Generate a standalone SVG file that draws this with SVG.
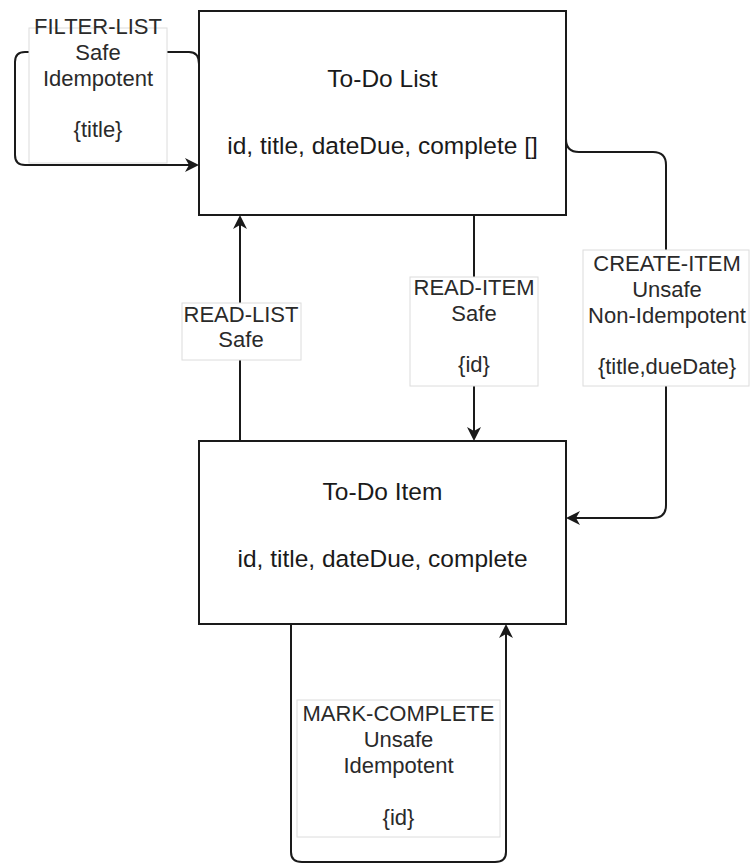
<svg xmlns="http://www.w3.org/2000/svg" width="750" height="865" viewBox="0 0 750 865">
  <style>
    .node { fill: #ffffff; stroke: #1a1a1a; stroke-width: 2; }
    .node-text { font-family: "Liberation Sans", Arial, sans-serif; font-size: 24.5px; fill: #1a1a1a; text-anchor: middle; }
    .edge { fill: none; stroke: #1a1a1a; stroke-width: 2; }
    .label-box { fill: #ffffff; stroke: #dcdcdc; stroke-width: 1; }
    .label-text { font-family: "Liberation Sans", Arial, sans-serif; font-size: 22px; fill: #2a2a2a; text-anchor: middle; }
  </style>
  <defs>
    <marker id="arrow" viewBox="-9 -8 16 16" refX="0" refY="0" markerWidth="16" markerHeight="16" markerUnits="userSpaceOnUse" orient="auto">
      <path d="M6,0 L-8,-7 L-4,0 L-8,7 Z" fill="#1a1a1a"/>
    </marker>
  </defs>

  <rect width="750" height="865" fill="#ffffff"/>

  <!-- Resources -->
  <g id="todo-list">
    <rect class="node" x="199" y="11" width="367" height="204"/>
    <text class="node-text" x="382.5" y="87">To-Do List</text>
    <text class="node-text" x="382.5" y="154">id, title, dateDue, complete []</text>
  </g>

  <g id="todo-item">
    <rect class="node" x="199" y="441" width="367" height="183"/>
    <text class="node-text" x="382.5" y="500">To-Do Item</text>
    <text class="node-text" x="382.5" y="567">id, title, dateDue, complete</text>
  </g>

  <!-- Transitions between resources -->
  <g id="connectors">
    <!-- FILTER-LIST: loop on the list -->
    <path class="edge" d="M199,64 Q199,52 189,52 L25,52 Q15,52 15,62 L15,155 Q15,165 25,165 L193,165" marker-end="url(#arrow)"/>
    <!-- READ-LIST: item to list -->
    <path class="edge" d="M240,441 L240,221" marker-end="url(#arrow)"/>
    <!-- READ-ITEM: list to item -->
    <path class="edge" d="M474,215 L474,435" marker-end="url(#arrow)"/>
    <!-- CREATE-ITEM: list to item -->
    <path class="edge" d="M566,112 L566,139 Q566,152 579,152 L653,152 Q666,152 666,165 L666,505 Q666,518 653,518 L572,518" marker-end="url(#arrow)"/>
    <!-- MARK-COMPLETE: loop on the item -->
    <path class="edge" d="M291,624 L291,852 Q291,862 302,862 L495,862 Q506,862 506,852 L506,630" marker-end="url(#arrow)"/>

    <g id="label-filter-list">
      <rect class="label-box" x="29" y="28" width="138" height="135"/>
      <text class="label-text" x="98" y="34">FILTER-LIST</text>
      <text class="label-text" x="98" y="60">Safe</text>
      <text class="label-text" x="98" y="86">Idempotent</text>
      <text class="label-text" x="98" y="137">{title}</text>
    </g>

    <g id="label-read-list">
      <rect class="label-box" x="182" y="303" width="119" height="57"/>
      <text class="label-text" x="241" y="322">READ-LIST</text>
      <text class="label-text" x="241" y="347">Safe</text>
    </g>

    <g id="label-read-item">
      <rect class="label-box" x="410" y="277" width="128" height="109"/>
      <text class="label-text" x="474" y="295">READ-ITEM</text>
      <text class="label-text" x="474" y="321">Safe</text>
      <text class="label-text" x="474" y="372">{id}</text>
    </g>

    <g id="label-create-item">
      <rect class="label-box" x="583" y="250" width="166" height="136"/>
      <text class="label-text" x="667" y="271">CREATE-ITEM</text>
      <text class="label-text" x="667" y="297">Unsafe</text>
      <text class="label-text" x="667" y="323">Non-Idempotent</text>
      <text class="label-text" x="667" y="374">{title,dueDate}</text>
    </g>

    <g id="label-mark-complete">
      <rect class="label-box" x="297" y="700" width="203" height="137"/>
      <text class="label-text" x="398.5" y="721">MARK-COMPLETE</text>
      <text class="label-text" x="398.5" y="747">Unsafe</text>
      <text class="label-text" x="398.5" y="773">Idempotent</text>
      <text class="label-text" x="398.5" y="825">{id}</text>
    </g>
  </g>
</svg>
